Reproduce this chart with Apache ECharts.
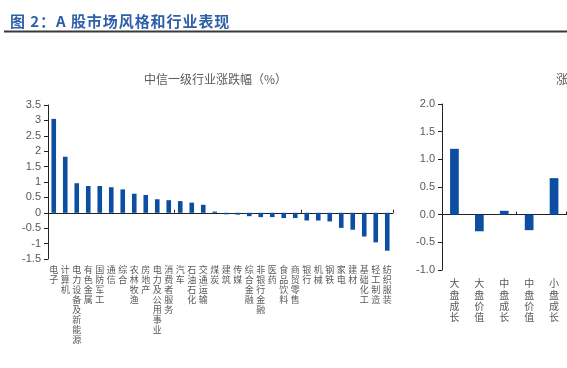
<!DOCTYPE html>
<html>
<head>
<meta charset="utf-8">
<script src="https://cdn.jsdelivr.net/npm/echarts@6/dist/echarts.min.js"></script>
<style>
html, body { margin: 0; padding: 0; background: #fff; overflow: hidden; }
#main { width: 567px; height: 368px; }
</style>
</head>
<body>
<div id="main"></div>
<script>
// 中信一级行业
var industryNames = ['电子', '计算机', '电力设备及新能源', '有色金属', '国防军工', '通信', '综合', '农林牧渔', '房地产',
    '电力及公用事业', '消费者服务', '汽车', '石油石化', '交通运输', '煤炭', '建筑', '传媒', '综合金融', '非银行金融',
    '医药', '食品饮料', '商贸零售', '银行', '机械', '钢铁', '家电', '建材', '基础化工', '轻工制造', '纺织服装'];
var industryValues = [3.05, 1.82, 0.96, 0.87, 0.87, 0.83, 0.76, 0.62, 0.58,
    0.44, 0.41, 0.38, 0.33, 0.26, 0.04, -0.05, -0.06, -0.11, -0.14,
    -0.14, -0.17, -0.17, -0.25, -0.25, -0.28, -0.49, -0.55, -0.77, -0.96, -1.23];

// 风格指数
var styleNames = ['大盘成长', '大盘价值', '中盘成长', '中盘价值', '小盘成长'];
var styleValues = [1.19, -0.30, 0.07, -0.28, 0.66];

var leftTicks = [-1.5, 3.5, 0.5];   // min, max, interval
var rightTicks = [-1.0, 2.0, 0.5];

var barColor = '#0b4ea2';
var textColor = '#595959';
var lineColor = '#222';
var font = '"Noto Sans CJK SC", "Liberation Sans", sans-serif';

var myChart = echarts.init(document.getElementById('main'));

//竖排文字
function vertical(s) {
    return s.split('').join('\n');
}

//标题字间距
function spaced(s) {
    return s.split('').join('\u200a');
}

function zeroAxis(grid, names) {
    return {
        type: 'category',
        gridIndex: grid,
        data: names,
        axisLine: { onZero: true, lineStyle: { color: lineColor, width: 1 } },
        axisTick: { show: true, inside: true, length: 3, lineStyle: { color: lineColor } },
        axisLabel: { show: false },
        splitLine: { show: false }
    };
}

function labelAxis(grid, names, margin, size, lh) {
    return {
        type: 'category',
        gridIndex: grid,
        position: 'bottom',
        data: names,
        axisLine: { show: false, onZero: false },
        axisTick: { show: false },
        axisLabel: {
            interval: 0,
            margin: margin,
            color: textColor,
            fontSize: size,
            lineHeight: lh,
            fontFamily: font,
            verticalAlign: 'top',
            formatter: vertical
        }
    };
}

function valueAxis(grid, t, fmt) {
    return {
        type: 'value',
        gridIndex: grid,
        min: t[0],
        max: t[1],
        interval: t[2],
        axisLine: { show: true, lineStyle: { color: lineColor, width: 1 } },
        axisTick: { show: true, length: 4, lineStyle: { color: lineColor } },
        axisLabel: { color: textColor, fontSize: 11, margin: 7, fontFamily: '"Liberation Sans", Arial, sans-serif', formatter: fmt },
        splitLine: { show: false }
    };
}

var option = {
    animation: false,
    backgroundColor: '#fff',
    title: [{
        text: spaced('图 2：A 股市场风格和行业表现'),
        left: 5,
        top: 9,
        textStyle: { color: '#2e5fa8', fontSize: 15, fontWeight: 'bold', fontFamily: font }
    }, {
        text: '中信一级行业涨跌幅（%）',
        left: 139,
        top: 68,
        textStyle: { color: textColor, fontSize: 12, fontWeight: 'normal', fontFamily: font }
    }, {
        text: '涨跌幅（%）',
        left: 551,
        top: 68,
        textStyle: { color: textColor, fontSize: 12, fontWeight: 'normal', fontFamily: font }
    }],
    graphic: [{
        type: 'line',
        shape: { x1: 4, y1: 31.5, x2: 567, y2: 31.5 },
        style: { stroke: '#3a3a3a', lineWidth: 2 }
    }],
    grid: [
        { left: 48, top: 105, width: 345, height: 154 },
        { left: 442, top: 104, width: 124.5, height: 166 }
    ],
    xAxis: [
        zeroAxis(0, industryNames),
        labelAxis(0, industryNames, 6, 9, 10),
        zeroAxis(1, styleNames),
        labelAxis(1, styleNames, 8, 10, 11.2)
    ],
    yAxis: [
        valueAxis(0, leftTicks),
        valueAxis(1, rightTicks, function (v) { return v.toFixed(1); })
    ],
    series: [{
        type: 'bar',
        xAxisIndex: 0,
        yAxisIndex: 0,
        barWidth: '40%',
        itemStyle: { color: barColor },
        data: industryValues
    }, {
        type: 'bar',
        xAxisIndex: 2,
        yAxisIndex: 1,
        barWidth: '35%',
        itemStyle: { color: barColor },
        data: styleValues
    }]
};

myChart.setOption(option);
</script>
</body>
</html>
